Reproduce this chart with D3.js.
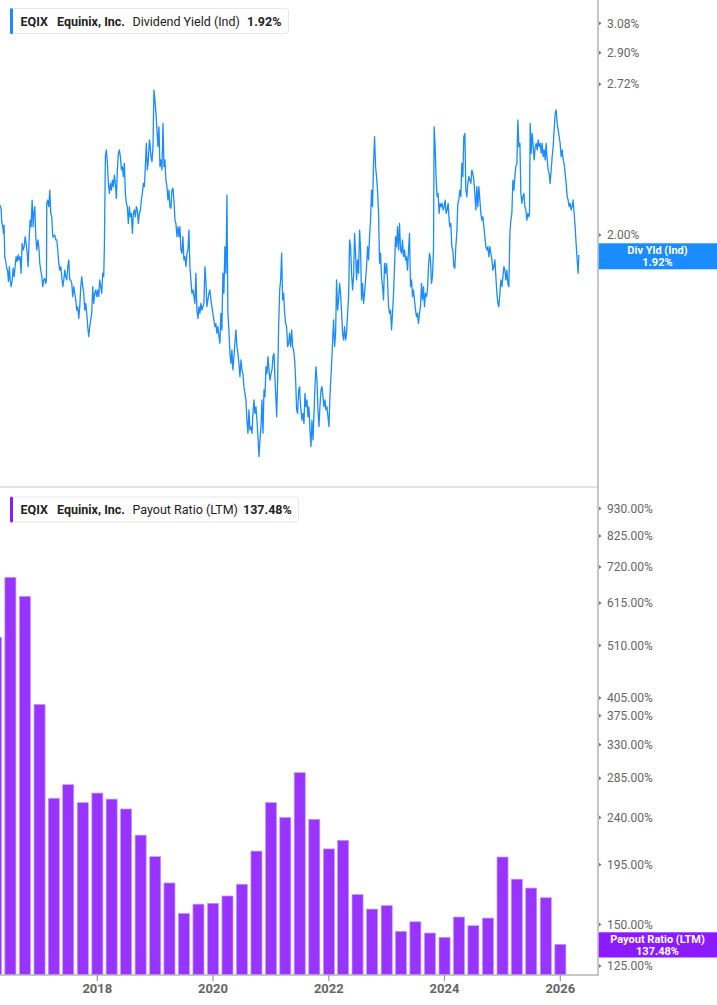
<!DOCTYPE html>
<html><head><meta charset="utf-8">
<script src="https://cdn.jsdelivr.net/npm/d3@7/dist/d3.min.js"></script>
<style>
html,body{margin:0;padding:0;background:#fff;}
svg{display:block;font-family:Roboto,"Noto Sans",sans-serif;}
</style></head>
<body>
<svg id="chart" width="717" height="1005"></svg>
<script>
// ---- DATA ----
const ticker = "EQIX";
const company = "Equinix, Inc.";
const yieldName = "Dividend Yield (Ind)";
const yieldShort = "Div Yld (Ind)";
const yieldLast = "1.92%";
const payoutName = "Payout Ratio (LTM)";
const payoutLast = "137.48%";

const yieldTicks = [2.00, 2.72, 2.90, 3.08];
const payoutTicks = [125, 150, 195, 240, 285, 330, 375, 405, 510, 615, 720, 825, 930];
const yearTicks = [2018, 2020, 2022, 2024, 2026];

const quarterEnds = [
 "2016-03-31","2016-06-30","2016-09-30","2016-12-31",
 "2017-03-31","2017-06-30","2017-09-30","2017-12-31",
 "2018-03-31","2018-06-30","2018-09-30","2018-12-31",
 "2019-03-31","2019-06-30","2019-09-30","2019-12-31",
 "2020-03-31","2020-06-30","2020-09-30","2020-12-31",
 "2021-03-31","2021-06-30","2021-09-30","2021-12-31",
 "2022-03-31","2022-06-30","2022-09-30","2022-12-31",
 "2023-03-31","2023-06-30","2023-09-30","2023-12-31",
 "2024-03-31","2024-06-30","2024-09-30","2024-12-31",
 "2025-03-31","2025-06-30","2025-09-30","2025-12-31"];
const payoutRatio = [
 529, 688, 633, 394,
 261, 277, 256, 267,
 260, 249, 222, 202,
 180, 157.5, 164, 164.6,
 170, 179, 207, 256,
 240, 292, 238, 209,
 217, 171, 160.5, 163,
 145.6, 151.8, 144.5, 141.8,
 155, 149.2, 154.3, 201.7,
 183, 176, 168.7, 137.48];

// dividend yield (%) : [decimal year, value]
const divYield = [
[2016.320,2.126],[2016.337,2.112],[2016.349,2.055],[2016.366,2.034],[2016.378,2.007],[2016.389,2.041],[2016.401,1.914],[2016.418,1.895],[2016.435,1.869],[2016.452,1.856],[2016.464,1.819],[2016.481,1.875],[2016.493,1.825],[2016.510,1.800],[2016.527,1.819],[2016.545,1.869],[2016.562,1.837],[2016.579,1.875],[2016.596,1.914],[2016.614,1.895],[2016.631,1.921],[2016.648,1.901],[2016.665,1.914],[2016.683,1.850],[2016.700,1.966],[2016.717,1.940],[2016.735,1.953],[2016.752,1.993],[2016.769,1.966],[2016.786,1.934],[2016.804,1.875],[2016.821,1.980],[2016.838,2.062],[2016.855,2.034],[2016.873,2.148],[2016.890,2.034],[2016.901,2.090],[2016.919,2.119],[2016.936,1.993],[2016.953,1.940],[2016.971,1.980],[2016.988,1.953],[2017.005,1.888],[2017.022,1.862],[2017.040,1.837],[2017.057,1.800],[2017.074,1.825],[2017.091,1.831],[2017.109,1.812],[2017.120,1.825],
[2017.126,2.133],[2017.143,2.148],[2017.161,2.119],[2017.178,2.192],[2017.195,2.090],[2017.212,2.076],[2017.230,1.993],[2017.247,1.993],[2017.264,2.000],[2017.281,1.980],[2017.299,1.980],[2017.316,1.940],[2017.333,1.888],[2017.350,1.862],[2017.368,1.875],[2017.385,1.837],[2017.402,1.800],[2017.420,1.825],[2017.437,1.862],[2017.454,1.837],[2017.471,1.825],[2017.489,1.875],[2017.506,1.901],[2017.523,1.825],[2017.540,1.825],[2017.558,1.812],[2017.575,1.764],[2017.592,1.800],[2017.610,1.776],[2017.627,1.752],[2017.644,1.716],[2017.661,1.728],[2017.679,1.687],[2017.696,1.728],[2017.713,1.800],[2017.730,1.837],[2017.748,1.800],[2017.765,1.776],[2017.782,1.716],[2017.800,1.740],[2017.817,1.705],[2017.834,1.659],[2017.851,1.626],[2017.869,1.659],[2017.886,1.682],[2017.903,1.705],[2017.920,1.800],[2017.938,1.740],[2017.955,1.776],[2017.972,1.788],[2017.990,1.764],[2018.007,1.788],[2018.024,1.764],[2018.041,1.825],[2018.059,1.800],[2018.076,1.776],[2018.093,1.850],[2018.110,1.837],[2018.122,1.953],
[2018.139,2.347],[2018.156,2.379],[2018.174,2.315],[2018.191,2.222],[2018.208,2.177],[2018.226,2.222],[2018.243,2.192],[2018.260,2.237],[2018.277,2.207],[2018.295,2.260],[2018.312,2.222],[2018.329,2.155],[2018.346,2.284],[2018.364,2.363],[2018.381,2.379],[2018.398,2.347],[2018.416,2.284],[2018.433,2.299],[2018.450,2.253],[2018.467,2.315],[2018.485,2.177],[2018.502,2.133],[2018.519,2.119],[2018.536,2.048],[2018.554,2.119],[2018.571,2.076],[2018.588,2.090],[2018.606,2.007],[2018.623,2.090],[2018.640,2.105],[2018.657,2.076],[2018.675,2.119],[2018.692,2.105],[2018.709,2.048],[2018.726,2.090],[2018.744,2.105],[2018.761,2.148],[2018.778,2.177],[2018.796,2.222],[2018.813,2.207],[2018.830,2.299],[2018.847,2.411],[2018.865,2.284],[2018.882,2.331],[2018.899,2.428],
[2018.910,2.411],[2018.927,2.347],[2018.945,2.323],[2018.962,2.395],[2018.979,2.688],[2018.996,2.634],[2019.014,2.563],[2019.031,2.478],[2019.048,2.395],[2019.065,2.494],[2019.083,2.299],[2019.100,2.331],[2019.117,2.284],[2019.135,2.511],[2019.152,2.299],[2019.169,2.331],[2019.186,2.237],[2019.204,2.207],[2019.221,2.148],[2019.238,2.192],[2019.255,2.119],[2019.273,2.112],[2019.290,2.192],[2019.307,2.200],[2019.325,2.148],[2019.342,2.062],[2019.359,2.048],[2019.376,1.993],[2019.394,2.034],[2019.411,1.993],[2019.428,2.034],[2019.445,1.940],[2019.463,1.927],[2019.480,1.993],[2019.497,1.901],[2019.514,1.914],[2019.532,1.875],[2019.549,1.927],[2019.566,1.940],[2019.584,2.020],[2019.601,1.875],[2019.618,1.825],[2019.635,1.776],[2019.653,1.788],[2019.670,1.764],[2019.687,1.740],[2019.704,1.850],[2019.722,1.716],[2019.739,1.687],[2019.756,1.728],[2019.774,1.705],[2019.791,1.740],[2019.808,1.716],[2019.825,1.728],[2019.843,1.740],[2019.860,1.875],[2019.877,1.825],[2019.894,1.728],[2019.912,1.752],[2019.929,1.776],[2019.946,1.788],[2019.964,1.752],[2019.981,1.728],[2019.998,1.705],
[2020.015,1.682],[2020.033,1.659],[2020.050,1.670],[2020.067,1.637],[2020.084,1.659],[2020.102,1.626],[2020.119,1.604],[2020.136,1.705],[2020.153,1.648],[2020.171,1.850],[2020.188,1.776],[2020.205,1.953],[2020.223,1.850],[2020.240,2.170],[2020.257,1.705],[2020.274,1.648],[2020.292,1.571],[2020.309,1.539],[2020.326,1.582],[2020.343,1.519],[2020.361,1.561],[2020.378,1.604],[2020.395,1.648],[2020.413,1.593],[2020.430,1.571],[2020.447,1.539],[2020.464,1.498],[2020.482,1.550],[2020.499,1.519],[2020.516,1.508],[2020.533,1.468],[2020.551,1.448],[2020.568,1.429],[2020.585,1.371],[2020.603,1.335],[2020.620,1.400],[2020.637,1.344],[2020.654,1.353],[2020.672,1.335],[2020.689,1.390],[2020.706,1.429],[2020.723,1.390],[2020.741,1.409],[2020.758,1.371],[2020.775,1.326],[2020.793,1.273],[2020.810,1.317],[2020.827,1.353],[2020.844,1.429],[2020.862,1.335],[2020.879,1.458],[2020.896,1.438],[2020.913,1.529],[2020.931,1.508],[2020.948,1.561],[2020.965,1.519],[2020.983,1.488],
[2021.000,1.508],[2021.017,1.519],[2021.034,1.561],[2021.052,1.571],[2021.069,1.488],[2021.086,1.429],[2021.098,1.381],[2021.115,1.488],[2021.132,1.659],[2021.150,1.788],[2021.167,1.825],[2021.184,1.927],[2021.201,1.752],[2021.219,1.776],[2021.236,1.705],[2021.253,1.670],[2021.270,1.659],[2021.288,1.593],[2021.305,1.604],[2021.322,1.637],[2021.339,1.593],[2021.357,1.648],[2021.374,1.593],[2021.391,1.582],[2021.409,1.550],[2021.426,1.488],[2021.443,1.400],[2021.460,1.390],[2021.478,1.458],[2021.495,1.468],
[2021.501,1.438],[2021.518,1.400],[2021.536,1.371],[2021.553,1.390],[2021.570,1.362],[2021.587,1.448],[2021.605,1.409],[2021.622,1.429],[2021.639,1.381],[2021.656,1.409],[2021.674,1.344],[2021.691,1.299],[2021.708,1.371],[2021.726,1.317],[2021.743,1.390],[2021.760,1.468],[2021.777,1.529],[2021.795,1.488],[2021.812,1.400],[2021.829,1.353],[2021.846,1.409],[2021.864,1.458],[2021.881,1.468],[2021.898,1.438],[2021.916,1.409],[2021.933,1.429],[2021.950,1.400],[2021.967,1.409],[2021.985,1.381],
[2022.002,1.353],[2022.019,1.438],[2022.036,1.498],[2022.054,1.561],[2022.071,1.637],[2022.082,1.682],[2022.100,1.593],[2022.117,1.637],[2022.134,1.825],[2022.152,1.716],[2022.169,1.752],[2022.186,1.812],[2022.203,1.776],[2022.221,1.705],[2022.238,1.637],[2022.255,1.615],[2022.272,1.659],[2022.290,1.615],[2022.307,1.637],[2022.324,1.705],[2022.342,1.764],[2022.359,1.980],[2022.376,1.953],[2022.393,1.850],[2022.411,1.788],[2022.428,1.837],[2022.445,2.007],[2022.462,1.927],[2022.480,1.825],[2022.497,1.901],[2022.514,1.850],[2022.532,2.020],[2022.549,1.940],[2022.566,1.752],[2022.583,1.812],[2022.601,1.740],[2022.618,1.776],[2022.635,1.825],[2022.652,1.875],[2022.670,1.953],[2022.687,1.901],[2022.704,1.993],[2022.721,2.062],[2022.739,2.192],[2022.756,2.119],[2022.773,2.315],[2022.791,2.444],[2022.808,2.299],[2022.825,2.253],[2022.842,2.192],[2022.860,2.090],[2022.877,1.888],[2022.894,1.927],[2022.911,1.837],[2022.929,1.800],[2022.946,1.752],[2022.963,1.888],[2022.981,1.850],[2022.998,1.888],
[2023.015,1.825],[2023.032,1.728],[2023.050,1.705],[2023.067,1.716],[2023.084,1.648],[2023.101,1.705],[2023.119,1.776],[2023.136,1.875],[2023.153,1.993],[2023.171,1.953],[2023.188,2.034],[2023.205,1.940],[2023.222,2.048],[2023.240,1.940],[2023.257,1.927],[2023.274,1.980],[2023.291,1.914],[2023.309,1.940],[2023.326,1.901],[2023.343,1.914],[2023.361,1.862],[2023.378,1.940],[2023.395,2.007],[2023.412,1.800],[2023.430,1.825],[2023.447,1.764],[2023.464,1.788],[2023.481,1.752],[2023.499,1.716],[2023.516,1.693],[2023.533,1.705],[2023.550,1.670],[2023.568,1.705],[2023.585,1.728],[2023.602,1.812],[2023.620,1.752],[2023.637,1.800],[2023.654,1.728],[2023.671,1.776],[2023.689,1.764],[2023.706,1.788],[2023.723,1.875],[2023.741,1.927],[2023.758,1.901],[2023.775,1.812],[2023.792,1.837],[2023.810,1.940],[2023.821,2.494],[2023.838,2.395],[2023.856,2.237],[2023.873,2.163],[2023.890,2.177],[2023.907,2.090],[2023.925,2.133],[2023.942,2.119],[2023.959,2.133],[2023.977,2.105],[2023.994,2.119],
[2024.011,2.148],[2024.028,2.090],[2024.046,2.105],[2024.063,2.133],[2024.080,2.062],[2024.092,2.034],[2024.109,2.048],[2024.126,1.953],[2024.143,1.940],[2024.161,1.875],[2024.178,1.869],[2024.195,1.953],[2024.212,2.007],[2024.230,2.133],[2024.247,2.148],[2024.264,2.192],[2024.282,2.163],[2024.299,2.315],[2024.316,2.253],[2024.333,2.444],[2024.351,2.461],[2024.368,2.192],[2024.385,2.163],[2024.402,2.222],[2024.420,2.253],[2024.437,2.237],[2024.454,2.222],[2024.472,2.284],[2024.489,2.268],[2024.506,2.237],[2024.523,2.177],[2024.541,2.105],[2024.558,2.207],[2024.575,2.119],[2024.592,2.207],[2024.610,2.148],[2024.627,2.090],[2024.644,2.062],[2024.661,2.076],[2024.679,2.034],[2024.696,1.993],[2024.713,1.953],[2024.731,1.940],[2024.748,1.953],[2024.765,1.914],[2024.782,1.953],[2024.800,1.927],[2024.817,1.901],[2024.834,1.862],[2024.851,1.875],[2024.869,1.901],[2024.886,1.837],[2024.903,1.776],[2024.921,1.740],[2024.938,1.728],[2024.955,1.776],[2024.972,1.825],[2024.990,1.800],
[2025.007,1.837],[2025.024,1.875],[2025.041,1.862],[2025.059,1.825],[2025.076,1.862],[2025.093,1.812],[2025.110,1.800],[2025.128,2.007],[2025.145,2.062],[2025.162,2.090],[2025.180,2.237],[2025.197,2.192],[2025.214,2.253],[2025.231,2.299],[2025.249,2.315],[2025.266,2.529],[2025.283,2.395],[2025.301,2.411],[2025.318,2.177],[2025.335,2.133],[2025.352,2.163],[2025.370,2.177],[2025.387,2.119],[2025.404,2.105],[2025.421,2.062],[2025.439,2.090],[2025.456,2.076],[2025.467,2.090],[2025.479,2.511],[2025.496,2.363],[2025.513,2.461],[2025.531,2.395],[2025.548,2.331],[2025.565,2.395],[2025.583,2.411],[2025.600,2.379],[2025.617,2.428],[2025.634,2.395],[2025.652,2.411],[2025.669,2.363],[2025.686,2.411],[2025.704,2.347],[2025.721,2.379],[2025.738,2.331],[2025.755,2.411],[2025.773,2.331],[2025.790,2.284],[2025.807,2.268],[2025.824,2.222],[2025.842,2.284],[2025.859,2.347],[2025.876,2.395],[2025.893,2.478],[2025.911,2.563],[2025.928,2.581],[2025.945,2.511],[2025.963,2.478],[2025.980,2.444],[2025.997,2.411],
[2026.014,2.347],[2026.032,2.379],[2026.049,2.331],[2026.066,2.315],[2026.083,2.268],[2026.101,2.222],[2026.118,2.163],[2026.135,2.148],[2026.153,2.119],[2026.170,2.133],[2026.187,2.105],[2026.204,2.119],[2026.222,2.148],[2026.239,2.090],[2026.256,2.034],[2026.273,1.966],[2026.291,1.901],[2026.308,1.850],[2026.319,1.920]
];

// ---- STYLE / LAYOUT ----
const W = 717, H = 1005;
const plotRight = 598;
const topPane = {y0: 0, y1: 486};
const botPane = {y0: 488, y1: 975};
const blue = "#1a8cff", purple = "#8c1aff", barFill = "#9933ff";
const tickColor = "#666";

function yearToDate(t){
  const y = Math.floor(t);
  const s = new Date(y,0,1), e = new Date(y+1,0,1);
  return new Date(+s + (t - y) * (e - s));
}

const svg = d3.select("#chart");

const x = d3.scaleTime()
  .domain([yearToDate(2016.3188), yearToDate(2026.6514)])
  .range([0, plotRight]);

const yTop = d3.scaleLog().domain([1.1988, 3.230]).range([topPane.y1, topPane.y0]);
const yBot = d3.scaleLog().domain([120.2, 1018]).range([botPane.y1, botPane.y0]);

const defs = svg.append("defs");
defs.append("clipPath").attr("id","clipTop").append("rect")
  .attr("x",0).attr("y",topPane.y0).attr("width",plotRight).attr("height",topPane.y1-topPane.y0);
defs.append("clipPath").attr("id","clipBot").append("rect")
  .attr("x",0).attr("y",botPane.y0).attr("width",plotRight).attr("height",botPane.y1-botPane.y0);

// separator
svg.append("line").attr("x1",0).attr("x2",plotRight).attr("y1",487).attr("y2",487)
  .attr("stroke","#e3e3e3").attr("stroke-width",2);

// line
const line = d3.line().x(d=>x(yearToDate(d[0]))).y(d=>yTop(d[1]));
svg.append("path").datum(divYield)
  .attr("clip-path","url(#clipTop)")
  .attr("d",line).attr("fill","none").attr("stroke",blue).attr("stroke-width",1.3)
  .attr("stroke-linejoin","round");

// bars
const qStep = x(new Date(2018,3,1)) - x(new Date(2018,0,1));
const bw = qStep * 0.775;
const parse = d3.timeParse("%Y-%m-%d");
svg.append("g").attr("clip-path","url(#clipBot)")
  .selectAll("rect").data(payoutRatio).join("rect")
  .attr("x",(d,i)=>x(parse(quarterEnds[i])) - bw/2 + 0.2)
  .attr("width",bw)
  .attr("y",d=>yBot(d))
  .attr("height",d=>botPane.y1 - yBot(d))
  .attr("fill",barFill)
  .attr("stroke","#c29bff").attr("stroke-width",0.7);

// right axis line
svg.append("line").attr("x1",plotRight).attr("x2",plotRight).attr("y1",0).attr("y2",botPane.y1)
  .attr("stroke","#b5b5b5").attr("stroke-width",1.5);
// x axis baseline
svg.append("line").attr("x1",0).attr("x2",plotRight+0.75).attr("y1",botPane.y1).attr("y2",botPane.y1)
  .attr("stroke","#b5b5b5").attr("stroke-width",1.5);

// right axes
function rightAxis(scale, ticks, fmt){
  const g = svg.append("g");
  ticks.forEach(v=>{
    const yy = scale(v);
    g.append("path").attr("d",`M${plotRight+1},${yy-2}L${plotRight+3.5},${yy}L${plotRight+1},${yy+2}Z`).attr("fill","#777");
    g.append("text").attr("x",607).attr("y",yy).attr("dy","0.35em")
      .attr("font-size",12).attr("fill",tickColor).text(fmt(v));
  });
}
rightAxis(yTop, yieldTicks, v=>d3.format(".2f")(v)+"%");
rightAxis(yBot, payoutTicks, v=>d3.format(".2f")(v)+"%");

// x axis ticks
const xg = svg.append("g");
yearTicks.forEach(yr=>{
  const xx = x(new Date(yr,0,1));
  xg.append("line").attr("x1",xx).attr("x2",xx).attr("y1",botPane.y1).attr("y2",botPane.y1+6)
    .attr("stroke","#999").attr("stroke-width",1.2);
  xg.append("text").attr("x",xx).attr("y",993).attr("text-anchor","middle")
    .attr("font-size",13).attr("font-weight","bold").attr("fill","#666").text(yr);
});

// last-value boxes
function valueBox(yTopPx, yBotPx, color, l1, l2){
  svg.append("rect").attr("x",plotRight+0.75).attr("y",yTopPx).attr("width",W-plotRight).attr("height",yBotPx-yTopPx).attr("fill",color);
  const cx = 657.5, mid = (yTopPx+yBotPx)/2;
  svg.append("text").attr("x",cx).attr("y",mid-6.2).attr("dy","0.35em").attr("text-anchor","middle")
    .attr("font-size",11).attr("font-weight","bold").attr("fill","#fff").text(l1);
  svg.append("text").attr("x",cx).attr("y",mid+6.2).attr("dy","0.35em").attr("text-anchor","middle")
    .attr("font-size",11).attr("font-weight","bold").attr("fill","#fff").text(l2);
}
valueBox(243.3, 269.3, blue, yieldShort, yieldLast);
valueBox(932.3, 957.5, purple, payoutName, payoutLast);

// legends
function legend(y0, color, name, val, w){
  const g = svg.append("g");
  g.append("rect").attr("x",10.5).attr("y",y0+0.5).attr("width",w).attr("height",25).attr("rx",3)
    .attr("fill","#fff").attr("stroke","#e8e8e8");
  g.append("rect").attr("x",10).attr("y",y0).attr("width",3).attr("height",26).attr("rx",1.5).attr("fill",color);
  const t = g.append("text").attr("x",20.5).attr("y",y0+17.5).attr("font-size",12.5).attr("fill","#222");
  t.append("tspan").attr("font-weight","bold").text(ticker);
  t.append("tspan").attr("x",57).attr("font-weight","bold").text(company);
  t.append("tspan").attr("x",132.5).text(name);
  const tv = g.append("text").attr("y",y0+17.5).attr("font-size",12.5).attr("font-weight","bold").attr("fill","#222").text(val);
  return tv;
}
const lv1 = legend(8, blue, yieldName, yieldLast, 278);
lv1.attr("x",247);
const lv2 = legend(496.5, purple, payoutName, payoutLast, 288);
lv2.attr("x",243);
</script>
</body></html>
